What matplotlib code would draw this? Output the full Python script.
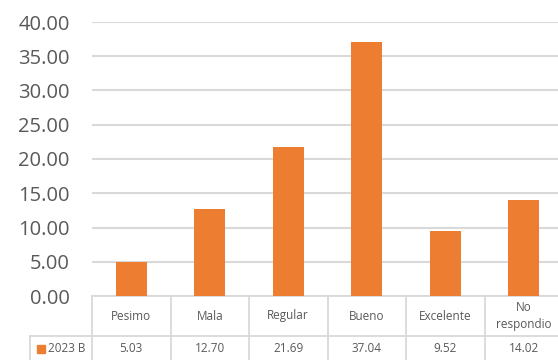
import matplotlib.pyplot as plt
from matplotlib.transforms import blended_transform_factory
from matplotlib.patches import Rectangle

categorias = ['Pesimo', 'Mala', 'Regular', 'Bueno', 'Excelente', 'No\nrespondio']
valores = [5.03, 12.70, 21.69, 37.04, 9.52, 14.02]
serie = '2023 B'
yticks = [0, 5, 10, 15, 20, 25, 30, 35, 40]

W, H = 558, 360
naranja = '#ED7D31'
gris_txt = '#595959'
gris_lin = '#D9D9D9'

plt.rcParams['font.family'] = ['Open Sans', 'DejaVu Sans']

fig = plt.figure(figsize=(W / 100, H / 100), dpi=100)
# plot area in pixels: left 92, right 563 (runs past the edge), top 22, bottom 296
ax = fig.add_axes([92 / W, 1 - 296 / H, (563 - 92) / W, (296 - 22) / H])

x = list(range(len(categorias)))
ax.bar(x, valores, width=0.4, color=naranja, zorder=3)
ax.set_xlim(-0.5, len(categorias) - 0.5)
ax.set_ylim(0, 40)
ax.set_yticks(yticks)
ax.set_yticklabels(['%.2f' % v for v in yticks], fontsize=14.5, color=gris_txt)
ax.tick_params(axis='y', length=0, pad=16)
ax.set_xticks([])
ax.grid(axis='y', color=gris_lin, linewidth=1.5, zorder=0)
for s in ax.spines.values():
    s.set_visible(False)

# data table below the axis
tr = blended_transform_factory(ax.transData, fig.transFigure)
def fy(px):
    return 1 - px / H

lw = 1.3
y_top, y_mid, y_bot = 296, 336, 362
ax.plot([-0.5, len(categorias) - 0.5], [fy(y_top)] * 2, transform=tr,
        color=gris_lin, lw=lw, clip_on=False)
ax.plot([-0.5, len(categorias) - 0.5], [fy(y_mid)] * 2, transform=tr,
        color=gris_lin, lw=lw, clip_on=False)
for i in range(len(categorias) + 1):
    ax.plot([i - 0.5, i - 0.5], [fy(y_top), fy(y_bot)], transform=tr,
            color=gris_lin, lw=lw, clip_on=False)
# row label cell
fig.add_artist(plt.Line2D([30 / W, 92 / W], [fy(y_mid)] * 2, color=gris_lin, lw=lw))
fig.add_artist(plt.Line2D([30 / W, 30 / W], [fy(y_mid), fy(y_bot)], color=gris_lin, lw=lw))
fig.add_artist(Rectangle((37 / W, fy(353)), 8 / W, 8 / H, color=naranja,
                         transform=fig.transFigure))
fig.text(48 / W, fy(348), serie, fontsize=8.5, color=gris_txt, va='center', ha='left')

for i, (c, v) in enumerate(zip(categorias, valores)):
    ax.text(i, fy(316), c, transform=tr, fontsize=8.5, color=gris_txt,
            ha='center', va='center', linespacing=1.4)
    ax.text(i, fy(348), '%.2f' % v, transform=tr, fontsize=8.5, color=gris_txt,
            ha='center', va='center')

fig.savefig('out.png', dpi=100)
